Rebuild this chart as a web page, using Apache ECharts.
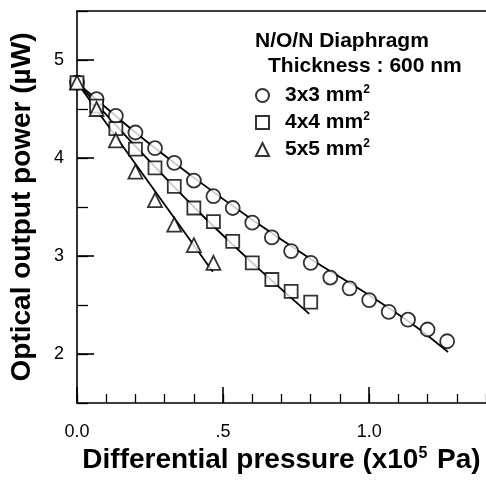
<!DOCTYPE html>
<html>
<head>
<meta charset="utf-8">
<script src="https://cdn.jsdelivr.net/npm/echarts@6/dist/echarts.min.js"></script>
<style>
  html, body { margin: 0; padding: 0; background: #fff; }
  #chart { width: 486px; height: 492px; }
</style>
</head>
<body>
<div id="chart"></div>
<script>
// pressure steps (x10^5 Pa), 50 mmHg apart
var pressure = [0, 0.067, 0.133, 0.2, 0.267, 0.333, 0.4, 0.467, 0.533, 0.6,
                0.667, 0.733, 0.8, 0.867, 0.933, 1.0, 1.067, 1.133, 1.2, 1.267];

// measured optical output power (uW)
var power3x3 = [4.77, 4.60, 4.43, 4.26, 4.10, 3.95, 3.77, 3.61, 3.49, 3.34,
                3.19, 3.05, 2.93, 2.78, 2.67, 2.55, 2.43, 2.35, 2.25, 2.13];
var power4x4 = [4.77, 4.53, 4.30, 4.09, 3.90, 3.71, 3.49, 3.35, 3.15, 2.93,
                2.76, 2.64, 2.53];
var power5x5 = [4.77, 4.50, 4.18, 3.86, 3.57, 3.32, 3.11, 2.93];

// fitted curves [pressure, power]
var fit3x3 = [[0, 4.77], [0.2, 4.26], [0.4, 3.80], [0.6, 3.37], [0.8, 2.97],
              [1.0, 2.60], [1.15, 2.30], [1.27, 2.02]];
var fit4x4 = [[0, 4.77], [0.2, 4.12], [0.4, 3.50], [0.6, 2.93], [0.795, 2.41]];
var fit5x5 = [[0, 4.77], [0.465, 2.84]];

var xMajor = [0, 0.5, 1.0];
var xLabels = {0: '0.0', 0.5: '.5', 1: '1.0'};
var yMajor = [2, 3, 4, 5];

function pairs(vals){
    var out = []
    vals.forEach(function(v, i){ out.push([pressure[i], v]) })
    return out
}

var font = 'Liberation Sans, Arial, Helvetica, sans-serif';
var markStyle = { color: '#fff', borderColor: '#000', borderWidth: 1.8 };
var fitStyle = { color: '#000', width: 1.8 };

var myChart = echarts.init(document.getElementById('chart'));
myChart.setOption({
    backgroundColor: '#fff',
    animation: false,
    grid: { left: 76, right: 0, top: 11, bottom: 89 },
    graphic: [
        { type: 'text', left: 255, top: 31,
          style: { text: 'N/O/N Diaphragm', font: 'bold 21px ' + font, fill: '#000' } },
        { type: 'text', left: 268, top: 56,
          style: { text: 'Thickness : 600 nm', font: 'bold 21px ' + font, fill: '#000' } }
    ],
    legend: {
        orient: 'vertical',
        left: 255, top: 84, padding: 0,
        itemWidth: 13, itemHeight: 13, itemGap: 4,
        data: ['3x3', '4x4', '5x5'],
        formatter: function(name){ return '{gap|}' + name + ' mm{sup|2}' },
        textStyle: {
            fontFamily: font, fontWeight: 'bold', fontSize: 21, color: '#000', lineHeight: 23,
            rich: {
                gap: { width: 11 },
                sup: { fontFamily: font, fontWeight: 'bold', fontSize: 12, verticalAlign: 'top', padding: [0, 0, 10, 0] }
            }
        }
    },
    xAxis: [
        {   // main axis with labels, major ticks
            type: 'value', min: 0, max: 1.4, position: 'bottom',
            axisLine: { show: true, onZero: false, lineStyle: { color: '#000', width: 1.6 } },
            axisTick: { inside: true, length: 16, customValues: xMajor, lineStyle: { color: '#000', width: 1.6 } },
            axisLabel: { customValues: xMajor, margin: 20, fontSize: 18, fontFamily: font, color: '#000',
                         formatter: function(v){ return xLabels[v] } },
            splitLine: { show: false },
            name: 'Differential pressure (x10{sup|5} Pa)',
            nameLocation: 'middle', nameGap: 38,
            nameTextStyle: { fontFamily: font, fontWeight: 'bold', fontSize: 28, color: '#000',
                             rich: { sup: { fontFamily: font, fontWeight: 'bold', fontSize: 16, verticalAlign: 'top', padding: [0, 2, 13, 0] } } }
        },
        {   // minor ticks every 0.1
            type: 'value', min: 0, max: 1.4, interval: 0.1, position: 'bottom',
            axisLine: { show: false },
            axisTick: { inside: true, length: 9, lineStyle: { color: '#000', width: 1.3 } },
            axisLabel: { show: false }, splitLine: { show: false }
        },
        {   // top frame line
            type: 'value', min: 0, max: 1.4, position: 'top',
            axisLine: { show: true, onZero: false, lineStyle: { color: '#000', width: 1.6 } },
            axisTick: { show: false }, axisLabel: { show: false }, splitLine: { show: false }
        }
    ],
    yAxis: [
        {
            type: 'value', min: 1.5, max: 5.5, position: 'left',
            axisLine: { show: true, onZero: false, lineStyle: { color: '#000', width: 1.6 } },
            axisTick: { inside: true, length: 17, customValues: yMajor, lineStyle: { color: '#000', width: 1.6 } },
            axisLabel: { customValues: yMajor, margin: 13, fontSize: 18, fontFamily: font, color: '#000' },
            splitLine: { show: false },
            name: 'Optical output power (\u00b5W)',
            nameLocation: 'middle', nameGap: 41,
            nameTextStyle: { fontFamily: font, fontWeight: 'bold', fontSize: 28, color: '#000' }
        },
        {   // minor ticks every 0.5
            type: 'value', min: 1.5, max: 5.5, interval: 0.5, position: 'left',
            axisLine: { show: false },
            axisTick: { inside: true, length: 11, lineStyle: { color: '#000', width: 1.3 } },
            axisLabel: { show: false }, splitLine: { show: false }
        }
    ],
    series: [
        { name: 'fit3', type: 'line', data: fit3x3, smooth: 0.3, showSymbol: false, lineStyle: fitStyle, z: 1 },
        { name: 'fit4', type: 'line', data: fit4x4, smooth: 0.3, showSymbol: false, lineStyle: fitStyle, z: 1 },
        { name: 'fit5', type: 'line', data: fit5x5, showSymbol: false, lineStyle: fitStyle, z: 1 },
        { name: '3x3', type: 'scatter', data: pairs(power3x3), symbol: 'circle', symbolSize: 14, itemStyle: markStyle, z: 3 },
        { name: '4x4', type: 'scatter', data: pairs(power4x4), symbol: 'rect', symbolSize: 13, itemStyle: markStyle, z: 3 },
        { name: '5x5', type: 'scatter', data: pairs(power5x5), symbol: 'triangle', symbolSize: 14, itemStyle: markStyle, z: 3 }
    ]
});
</script>
</body>
</html>
